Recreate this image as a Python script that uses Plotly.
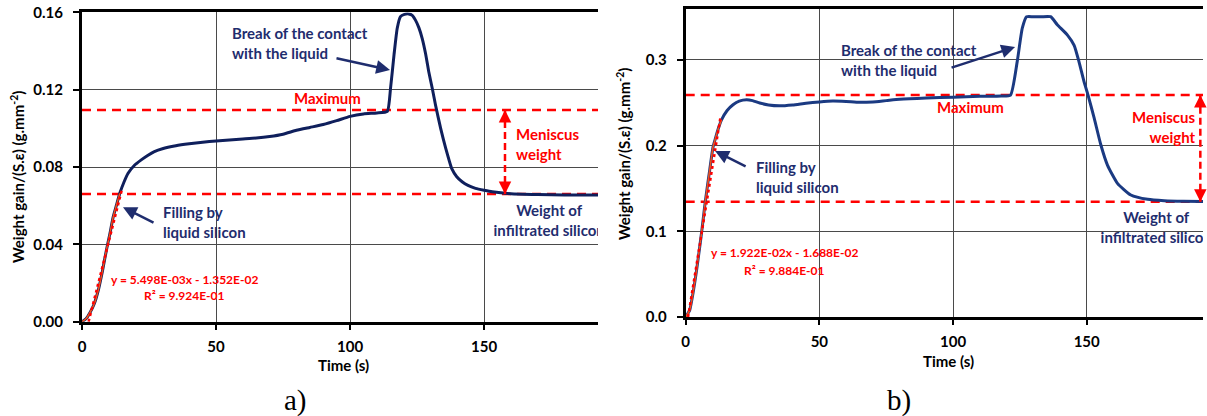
import plotly.graph_objects as go
import numpy as np

W, H = 1207, 416

# ---------------- data: panel a) ----------------
time_a = [0, 1.5, 2.9, 4.5, 6.1, 7.6, 9.1, 10.4, 11.6, 12.9, 14.1, 15.6, 17.2, 19.5, 22.1, 24.5,
          27, 30, 35, 40, 45, 50, 55, 60, 65, 70, 75, 80, 85, 90, 95, 100, 105, 110, 113.9,
          115.1, 116.4, 117.6, 118.8, 120.3, 121.9, 123.2, 124.4, 125.7, 126.9, 128.2, 129.4,
          130.7, 131.9, 133.8, 135.7, 138, 139.8, 141.8, 144, 146.8, 150, 153, 160, 170, 180, 192.5]
gain_a = [0, 0.0015, 0.0045, 0.009, 0.0164, 0.026, 0.037, 0.0455, 0.054, 0.0605, 0.0664, 0.072,
          0.0768, 0.0808, 0.0837, 0.0860, 0.0880, 0.0895, 0.0910, 0.0920, 0.0928, 0.0935, 0.0940,
          0.0945, 0.0950, 0.0958, 0.0970, 0.0990, 0.1005, 0.1020, 0.1040, 0.1062, 0.1075, 0.1080,
          0.1088, 0.1207, 0.138, 0.1518, 0.1578, 0.1590, 0.1592, 0.1585, 0.1560, 0.1520, 0.1466,
          0.1385, 0.1290, 0.1205, 0.1120, 0.1000, 0.0897, 0.0790, 0.0750, 0.0724, 0.0705, 0.0690,
          0.0680, 0.0672, 0.0662, 0.0658, 0.0656, 0.0655]

MAX_A = 0.1095
FINAL_A = 0.0660
FIT_A_SLOPE, FIT_A_INTERCEPT = 5.498e-03, -1.352e-02
FIT_A_X = [2.46, 15.0]
FIT_A_TEXT = ["y = 5.498E-03x - 1.352E-02", "R² = 9.924E-01"]
XMAX_A, YMAX_A = 192.5, 0.16
yticks_a = [0.00, 0.04, 0.08, 0.12, 0.16]

# ---------------- data: panel b) ----------------
time_b = [0, 1.5, 2.75, 4, 5.25, 6, 7.1, 8, 9, 10.2, 10.9, 12, 13.4, 15.5, 17.7, 20, 22.8, 25,
          27.7, 31, 35, 40, 45, 50, 55, 60, 65, 70, 75, 80, 90, 100, 110, 118, 121.5, 124,
          125.9, 127.5, 130, 133, 136.5, 139, 142.8, 145.3, 147.1, 149, 150.5, 152.8, 155.3,
          157.8, 161.5, 166.5, 172.8, 179, 186, 193.5]
gain_b = [0, 0.008, 0.028, 0.053, 0.082, 0.100, 0.129, 0.150, 0.172, 0.198, 0.206, 0.218, 0.230,
          0.241, 0.2477, 0.252, 0.2536, 0.2525, 0.2497, 0.2475, 0.2465, 0.2475, 0.2495, 0.2510,
          0.2520, 0.2515, 0.2505, 0.2510, 0.2525, 0.2540, 0.2555, 0.2565, 0.2575, 0.2580, 0.2590,
          0.2980, 0.3370, 0.3504, 0.3504, 0.3504, 0.3504, 0.3410, 0.3290, 0.3170, 0.2980, 0.2746,
          0.2590, 0.2320, 0.2007, 0.1770, 0.1560, 0.1424, 0.1373, 0.1357, 0.1350, 0.1348]

MAX_B = 0.259
FINAL_B = 0.1345
FIT_B_SLOPE, FIT_B_INTERCEPT = 1.922e-02, -1.688e-02
FIT_B_X = [0.88, 13.0]
FIT_B_TEXT = ["y = 1.922E-02x - 1.688E-02", "R² = 9.884E-01"]
XMAX_B, YMAX_B = 193.5, 0.36
yticks_b = [0.0, 0.1, 0.2, 0.3]

xticks = [0, 50, 100, 150]
FILL_END = 15.0

# ---------------- styling ----------------
NAVY_A = "#0f1f5c"
NAVY_B = "#1b3a82"
TXT_NAVY = "#1f2d6e"
RED = "#ff0000"
ORANGE = "#f0501e"
FONT = "Lato"

fig = go.Figure()

def add_panel(xa, ya, t, g, vmax, vfinal, slope, icpt, fitx, navy):
    t = np.array(t); g = np.array(g)
    xmax = XMAX_A if xa == "x" else XMAX_B
    for v in (vmax, vfinal):
        fig.add_trace(go.Scatter(x=[0, xmax], y=[v, v], mode="lines", xaxis=xa, yaxis=ya,
                                 line=dict(color=RED, width=2.5, dash="9px,6px"), hoverinfo="skip"))
    fig.add_trace(go.Scatter(x=t, y=g, mode="lines", xaxis=xa, yaxis=ya,
                             line=dict(color=navy, width=3, shape="spline", smoothing=0.5),
                             hoverinfo="skip"))
    m = t <= FILL_END
    fig.add_trace(go.Scatter(x=t[m], y=g[m], mode="lines", xaxis=xa, yaxis=ya,
                             line=dict(color=ORANGE, width=1.6, shape="spline", smoothing=0.5),
                             hoverinfo="skip"))
    fx = np.array(fitx)
    fig.add_trace(go.Scatter(x=fx, y=slope * fx + icpt, mode="lines", xaxis=xa, yaxis=ya,
                             line=dict(color=RED, width=2.5, dash="dot"), hoverinfo="skip"))

add_panel("x", "y", time_a, gain_a, MAX_A, FINAL_A, FIT_A_SLOPE, FIT_A_INTERCEPT, FIT_A_X, NAVY_A)
add_panel("x2", "y2", time_b, gain_b, MAX_B, FINAL_B, FIT_B_SLOPE, FIT_B_INTERCEPT, FIT_B_X, NAVY_B)

MEN_X_A, MEN_X_B = 157.8, 192.5
fig.add_trace(go.Scatter(x=[MEN_X_A, MEN_X_A], y=[FINAL_A, MAX_A], mode="lines", xaxis="x", yaxis="y",
                         line=dict(color=RED, width=2.5, dash="7px,4px"), hoverinfo="skip"))
fig.add_trace(go.Scatter(x=[MEN_X_B, MEN_X_B], y=[FINAL_B, MAX_B], mode="lines", xaxis="x2", yaxis="y2",
                         line=dict(color=RED, width=2.5, dash="7px,4px"), hoverinfo="skip"))

tf = dict(family=FONT, size=15, color=TXT_NAVY, weight="bold")
fig.add_trace(go.Scatter(x=[174.3, 174.3], y=[0.0566, 0.0464], mode="text", xaxis="x", yaxis="y",
                         text=["Weight of", "infiltrated silicon"], textfont=tf, cliponaxis=True,
                         textposition="middle center", hoverinfo="skip"))
fig.add_trace(go.Scatter(x=[176.0, 176.0], y=[0.1144, 0.0910], mode="text", xaxis="x2", yaxis="y2",
                         text=["Weight of", "infiltrated silicon"], textfont=tf, cliponaxis=True,
                         textposition="middle center", hoverinfo="skip"))

tick_font = dict(family=FONT, size=15, color="black", weight="bold")
axis_common = dict(showline=True, linecolor="black", linewidth=3, showgrid=True,
                   gridcolor="#4a4a4a", gridwidth=1, zeroline=False, ticks="outside",
                   tickcolor="black", tickwidth=2, tickfont=tick_font, fixedrange=True,
                   automargin=False)

fig.update_layout(
    template="none",
    width=W, height=H, margin=dict(l=0, r=0, t=0, b=0, autoexpand=False),
    paper_bgcolor="white", plot_bgcolor="white", showlegend=False,
    xaxis=dict(domain=[82 / W, 598 / W], range=[0, XMAX_A], anchor="y", tickvals=xticks,
               ticklen=5, ticklabelstandoff=4, mirror=True, **axis_common),
    yaxis=dict(domain=[1 - 321.7 / H, 1 - 12.4 / H], range=[0, YMAX_A], anchor="x",
               tickvals=yticks_a, tickformat=".2f", ticklen=6, ticklabelstandoff=7, **axis_common),
    xaxis2=dict(domain=[685.7 / W, 1203 / W], range=[0, XMAX_B], anchor="y2", tickvals=xticks,
                ticklen=5, ticklabelstandoff=4, mirror=True, **axis_common),
    yaxis2=dict(domain=[1 - 317 / H, 1 - 8.5 / H], range=[0, YMAX_B], anchor="x2",
                tickvals=yticks_b, tickformat=".1f", ticklen=6, ticklabelstandoff=7, **axis_common),
)

navy_font = dict(family=FONT, size=15, color=TXT_NAVY, weight="bold")
red_font = dict(family=FONT, size=15, color=RED, weight="bold")
eq_font = dict(family=FONT, size=12, color=RED, weight="bold")
title_font = dict(family=FONT, size=15, color="black", weight="bold")

ann = []
def A(**k):
    k.setdefault("showarrow", False)
    k.setdefault("xanchor", "center")
    k.setdefault("yanchor", "middle")
    ann.append(k)

# panel a annotations
A(x=55.2, y=0.1442, xref="x", yref="y", text="Break of the contact<br>with the liquid",
  xanchor="left", align="left", font=navy_font)
A(x=114.9, y=0.1302, xref="x", yref="y", text="", showarrow=True, ax=-55, ay=-12,
  arrowhead=2, arrowsize=1.1, arrowwidth=2.5, arrowcolor=TXT_NAVY)
A(x=91.4, y=0.1157, xref="x", yref="y", text="Maximum", font=red_font)
A(x=161.2, y=0.0917, xref="x", yref="y", text="Meniscus<br>weight", xanchor="left",
  align="left", font=red_font)
A(x=MEN_X_A, y=MAX_A, xref="x", yref="y", text="", showarrow=True, ax=0, ay=12,
  arrowhead=2, arrowsize=1, arrowwidth=2.5, arrowcolor=RED)
A(x=MEN_X_A, y=FINAL_A, xref="x", yref="y", text="", showarrow=True, ax=0, ay=-12,
  arrowhead=2, arrowsize=1, arrowwidth=2.5, arrowcolor=RED)
A(x=29.5, y=0.0518, xref="x", yref="y", text="Filling by<br>liquid silicon", xanchor="left",
  align="left", font=navy_font)
A(x=15.3, y=0.0592, xref="x", yref="y", text="", showarrow=True, ax=32, ay=16,
  arrowhead=2, arrowsize=1.1, arrowwidth=2.5, arrowcolor=TXT_NAVY)
A(x=38.4, y=0.0220, xref="x", yref="y", text=FIT_A_TEXT[0], font=eq_font)
A(x=38.4, y=0.0133, xref="x", yref="y", text=FIT_A_TEXT[1], font=eq_font)

# panel b annotations
A(x=57.3, y=0.2999, xref="x2", yref="y2", text="Break of the contact<br>with the liquid",
  xanchor="left", align="left", font=navy_font)
A(x=123.2, y=0.315, xref="x2", yref="y2", text="", showarrow=True, ax=-65, ay=21,
  arrowhead=2, arrowsize=1.1, arrowwidth=2.5, arrowcolor=TXT_NAVY)
A(x=106.4, y=0.245, xref="x2", yref="y2", text="Maximum", font=red_font)
A(x=191.7, y=0.2223, xref="x2", yref="y2", text="Meniscus<br>weight", xanchor="right",
  align="right", font=red_font)
A(x=MEN_X_B, y=MAX_B, xref="x2", yref="y2", text="", showarrow=True, ax=0, ay=12,
  arrowhead=2, arrowsize=1, arrowwidth=2.5, arrowcolor=RED)
A(x=MEN_X_B, y=FINAL_B, xref="x2", yref="y2", text="", showarrow=True, ax=0, ay=-12,
  arrowhead=2, arrowsize=1, arrowwidth=2.5, arrowcolor=RED)
A(x=25.5, y=0.1634, xref="x2", yref="y2", text="Filling by<br>liquid silicon", xanchor="left",
  align="left", font=navy_font)
A(x=11.0, y=0.1937, xref="x2", yref="y2", text="", showarrow=True, ax=32, ay=16,
  arrowhead=2, arrowsize=1.1, arrowwidth=2.5, arrowcolor=TXT_NAVY)
A(x=37.1, y=0.0747, xref="x2", yref="y2", text=FIT_B_TEXT[0], font=eq_font)
A(x=37.1, y=0.0537, xref="x2", yref="y2", text=FIT_B_TEXT[1], font=eq_font)

def P(px, py):
    return px / W, 1 - py / H

YT = "Weight gain/(S.ε) (g.mm<sup>-2</sup>)"
x0, y0 = P(18, 177)
A(x=x0, y=y0, xref="paper", yref="paper", text=YT, textangle=-90, font=title_font)
x0, y0 = P(623, 154)
A(x=x0, y=y0, xref="paper", yref="paper", text=YT, textangle=-90, font=title_font)
x0, y0 = P(343, 365)
A(x=x0, y=y0, xref="paper", yref="paper", text="Time (s)", font=title_font)
x0, y0 = P(948, 361)
A(x=x0, y=y0, xref="paper", yref="paper", text="Time (s)", font=title_font)
lab_font = dict(family="Liberation Serif", size=29, color="black")
x0, y0 = P(295, 400)
A(x=x0, y=y0, xref="paper", yref="paper", text="a)", font=lab_font)
x0, y0 = P(899, 400)
A(x=x0, y=y0, xref="paper", yref="paper", text="b)", font=lab_font)

fig.update_layout(annotations=ann)
fig.write_html("out.html",
               post_script="document.body.style.margin='0';document.body.style.overflow='hidden';")
